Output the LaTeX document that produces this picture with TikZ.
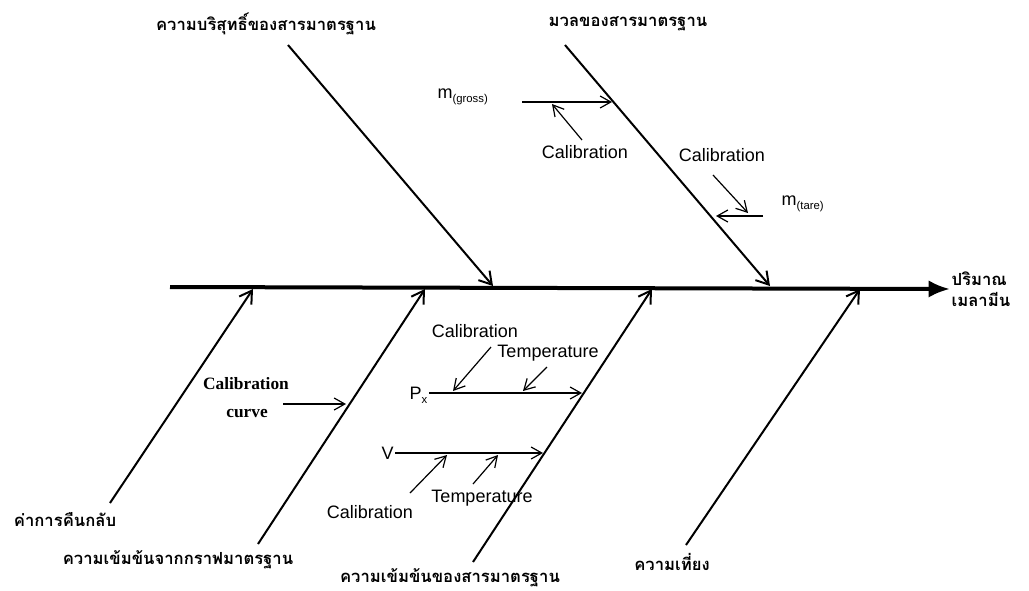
\documentclass[tikz,border=0pt]{standalone}
\usepackage{fontspec}
\setmainfont{Liberation Sans}
\newfontfamily\thaifont[Script=Thai]{Loma}
\newfontfamily\serifbold{Liberation Serif}
\usetikzlibrary{arrows.meta,positioning}
\newcommand\subtxt[1]{\raisebox{-0.5ex}{\fontsize{8.5}{9}\selectfont #1}}

\begin{document}
\begin{tikzpicture}[x=0.75pt,y=-0.75pt,
  spine/.style={line width=3pt,-{Latex[length=16pt,width=13pt]}},
  bone/.style={line width=1.5pt,-{Straight Barb[length=9pt,width=11pt]}},
  twig/.style={line width=0.9pt,-{Straight Barb[length=8pt,width=9pt]}},
  thlab/.style={font=\thaifont\bfseries\fontsize{12.5}{16}\selectfont,inner sep=1pt},
  lab/.style={font=\fontsize{13.5}{15}\selectfont,inner sep=1pt}]
  \useasboundingbox (0,0) rectangle (1029,590);

  % effect
  \coordinate (tail) at (170,287);
  \node[thlab,anchor=west,align=left] (melamine) at (950,289) {ปริมาณ\\เมลามีน};
  \draw[spine] (tail) -- (melamine.west);

  % upper bones
  \node[thlab] (purity) at (266,24) {ความบริสุทธิ์ของสารมาตรฐาน};
  \node[thlab] (mass) at (628,24) {มวลของสารมาตรฐาน};
  \coordinate (pu0) at (288,45);  \coordinate (pu1) at (493,286);
  \coordinate (ma0) at (565,45);  \coordinate (ma1) at (770,286);
  \draw[bone] (pu0) -- (pu1);
  \draw[bone] (ma0) -- (ma1);

  % lower bones
  \node[thlab] (recovery) at (65,520) {ค่าการคืนกลับ};
  \node[thlab] (conccurve) at (178,560) {ความเข้มข้นจากกราฟมาตรฐาน};
  \node[thlab] (concstd) at (450,578) {ความเข้มข้นของสารมาตรฐาน};
  \node[thlab] (precision) at (672,562) {ความเที่ยง};
  \coordinate (re0) at (110,503); \coordinate (re1) at (253,289);
  \coordinate (cc0) at (258,544); \coordinate (cc1) at (425,289);
  \coordinate (cs0) at (473,562); \coordinate (cs1) at (652,289);
  \coordinate (pr0) at (686,545); \coordinate (pr1) at (860,289);
  \draw[bone] (re0) -- (re1);
  \draw[bone] (cc0) -- (cc1);
  \draw[bone] (cs0) -- (cs1);
  \draw[bone] (pr0) -- (pr1);

  % mass of standard
  \node[lab,anchor=base west] (mgross) at (436,98) {m\subtxt{(gross)}};
  \coordinate (mg0) at (522,102); \coordinate (mg1) at (612,102);
  \draw[twig] (mg0) -- (mg1);
  \node[lab] (calA) at (585,152) {Calibration};
  \coordinate (ca0) at (582,140); \coordinate (ca1) at (552,104);
  \draw[twig] (ca0) -- (ca1);
  \node[lab] (calB) at (722,155) {Calibration};
  \coordinate (cb0) at (713,175); \coordinate (cb1) at (748,213);
  \draw[twig] (cb0) -- (cb1);
  \node[lab,anchor=base west] (mtare) at (780,205) {m\subtxt{(tare)}};
  \coordinate (mt0) at (763,216); \coordinate (mt1) at (716,216);
  \draw[twig] (mt0) -- (mt1);

  % concentration from curve
  \node[font=\serifbold\bfseries\fontsize{13}{15}\selectfont,inner sep=1pt] (calcurve) at (246,384) {Calibration};
  \node[font=\serifbold\bfseries\fontsize{13}{15}\selectfont,inner sep=1pt] (curve) at (247,413) {curve};
  \coordinate (cv0) at (283,404); \coordinate (cv1) at (346,404);
  \draw[twig] (cv0) -- (cv1);

  % concentration of standard
  \node[lab,anchor=base west] (px) at (408,399) {P\subtxt{x}};
  \coordinate (px1) at (582,393);
  \draw[twig] (px.east |- px1) -- (px1);
  \node[lab] (calC) at (475,331) {Calibration};
  \node[lab] (tempA) at (548,353) {Temperature};
  \coordinate (cc2) at (491,347); \coordinate (cc3) at (453,391);
  \coordinate (ta0) at (547,367); \coordinate (ta1) at (523,391);
  \draw[twig] (cc2) -- (cc3);
  \draw[twig] (ta0) -- (ta1);

  \node[lab,anchor=base west] (vol) at (380,459) {V};
  \coordinate (v1) at (543,453);
  \draw[twig] (vol.east |- v1) -- (v1);
  \node[lab] (calD) at (370,512) {Calibration};
  \node[lab] (tempB) at (482,498) {Temperature};
  \coordinate (cd0) at (410,493); \coordinate (cd1) at (447,455);
  \coordinate (tb0) at (473,484); \coordinate (tb1) at (498,455);
  \draw[twig] (cd0) -- (cd1);
  \draw[twig] (tb0) -- (tb1);
\end{tikzpicture}
\end{document}
